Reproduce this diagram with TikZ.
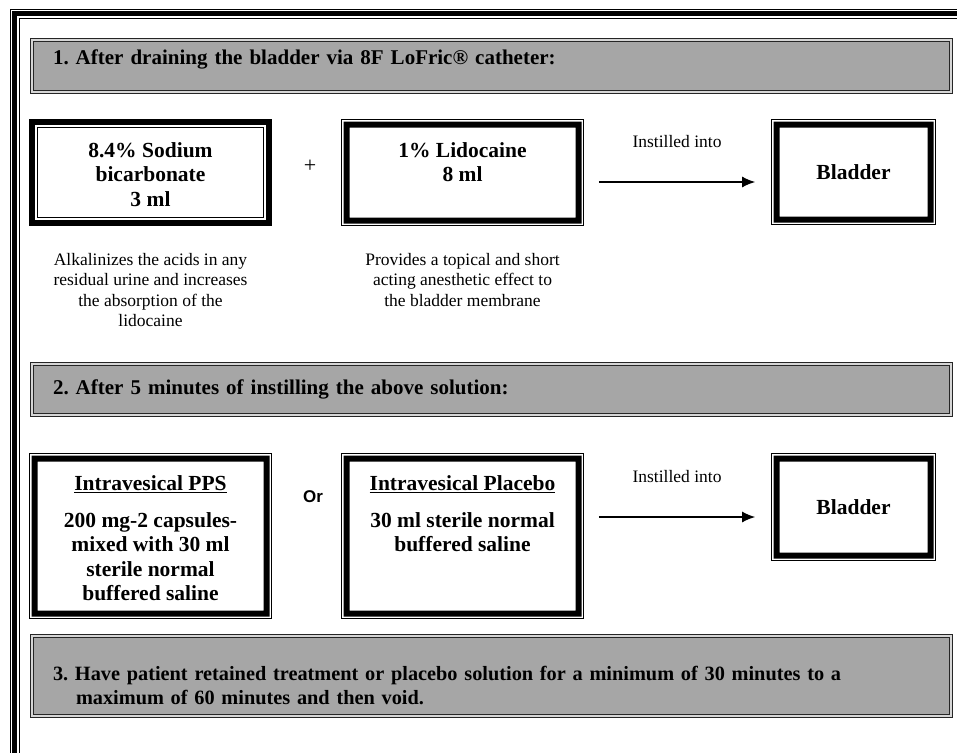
\documentclass[tikz,border=0pt]{standalone}
\usepackage{fontspec}
\setmainfont{Liberation Serif}
\newfontfamily\orfont{Liberation Sans}
\usepackage{xcolor}
\usepackage{tikz}
\usetikzlibrary{positioning, arrows.meta}
\definecolor{headgray}{RGB}{166,166,166}
\definecolor{rimgray}{RGB}{214,214,214}

\begin{document}
\begin{tikzpicture}[x=1pt,y=1pt]
	\tikzstyle{stephead}=[draw=black!85, line width=1pt, double=rimgray, double distance=2pt, fill=headgray, minimum width=919pt, text width=877pt, inner xsep=21pt, align=left, font=\bfseries\fontsize{21}{24}\selectfont\frenchspacing]
	\tikzstyle{thickthin}=[draw, line width=6pt, fill=white, path picture={\draw[black, line width=0.8pt] ([shift={(5.5pt,5.5pt)}]path picture bounding box.south west) rectangle ([shift={(-5.5pt,-5.5pt)}]path picture bounding box.north east);}]
	\tikzstyle{thinthick}=[draw, line width=0.8pt, fill=white, path picture={\fill[black, even odd rule] ([shift={(2pt,2pt)}]path picture bounding box.south west) rectangle ([shift={(-2pt,-2pt)}]path picture bounding box.north east) ([shift={(8pt,8pt)}]path picture bounding box.south west) rectangle ([shift={(-8pt,-8pt)}]path picture bounding box.north east);}, font=\bfseries\fontsize{21.5}{24}\selectfont]
	\tikzstyle{boxtext}=[inner sep=0pt, align=center, font=\bfseries\fontsize{21.5}{24.5}\selectfont]
	\tikzstyle{note}=[inner sep=0pt, align=center, font=\fontsize{17.5}{20.5}\selectfont]
	\tikzstyle{arrow}=[line width=1.3pt, -{Latex[length=13pt,width=11pt]}]

	\useasboundingbox (0,0) rectangle (957,-752);
	% outer frame
	\draw[line width=5pt] (14.5,-13.5) rectangle (1000,-800);
	\draw[line width=0.8pt] (10.5,-9) rectangle (1000,-800);
	\draw[line width=0.8pt] (19.5,-18.5) rectangle (1000,-800);

	% step 1
	\node[stephead, minimum height=52pt, text depth=18pt] (head1) at (491.5,-66) {1. After draining the bladder via 8F LoFric® catheter:};
	\node[thickthin, minimum width=237pt, minimum height=101pt] (sodium) at (150.5,-172.5) {};
	\node[boxtext, below=23pt of sodium.north] (sodiumtext) {8.4\% Sodium\\bicarbonate\\3 ml};
	\node[font=\fontsize{22}{22}\selectfont] (plus) at (310,-166) {+};
	\node[thinthick, minimum width=242pt, minimum height=106pt] (lidocaine) at (462.5,-172.5) {};
	\node[boxtext, below=23pt of lidocaine.north] (lidotext) {1\% Lidocaine\\8 ml};
	\node[thinthick, minimum width=164pt, minimum height=105pt] (bladderA) at (853.5,-172) {Bladder};
	\draw[arrow] ([xshift=15pt,yshift=-9.5pt]lidocaine.east) -- node[note, above=34pt] (instA) {Instilled into} ([xshift=-16pt,yshift=-10pt]bladderA.west);
	\node[note, below=27pt of sodium.south] (alkdesc) {Alkalinizes the acids in any\\residual urine and increases\\the absorption of the\\lidocaine};
	\node[note, below=27pt of lidocaine.south] (lidodesc) {Provides a topical and short\\acting anesthetic effect to\\the bladder membrane};

	% step 2
	\node[stephead, minimum height=51pt] (head2) at (491.5,-389.5) {2. After 5 minutes of instilling the above solution:};
	\node[thinthick, minimum width=242pt, minimum height=165pt] (pps) at (150.5,-536) {};
	\node[boxtext, below=22pt of pps.north] (ppstitle) {\underline{Intravesical PPS}};
	\node[boxtext, below=59pt of pps.north] (ppsbody) {200 mg-2 capsules-\\mixed with 30 ml\\sterile normal\\buffered saline};
	\node[font=\orfont\bfseries\fontsize{17}{17}\selectfont] (orword) at (313,-497) {Or};
	\node[thinthick, minimum width=242pt, minimum height=165pt] (placebo) at (462.5,-536) {};
	\node[boxtext, below=22pt of placebo.north] (placebotitle) {\underline{Intravesical Placebo}};
	\node[boxtext, below=59pt of placebo.north] (placebobody) {30 ml sterile normal\\buffered saline};
	\node[thinthick, minimum width=164pt, minimum height=107pt] (bladderB) at (853.5,-507) {Bladder};
	\draw[arrow] ([xshift=15pt,yshift=19pt]placebo.east) -- node[note, above=34pt] (instB) {Instilled into} ([xshift=-16pt,yshift=-10pt]bladderB.west);

	% step 3
	\node[stephead, minimum height=80pt, text height=34pt, font=\bfseries\fontsize{20.3}{24}\selectfont\frenchspacing] (head3) at (491.5,-676) {3. Have patient retained treatment or placebo solution for a minimum of 30 minutes to a\\\hspace*{23pt}maximum of 60 minutes and then void.};
\end{tikzpicture}
\end{document}
